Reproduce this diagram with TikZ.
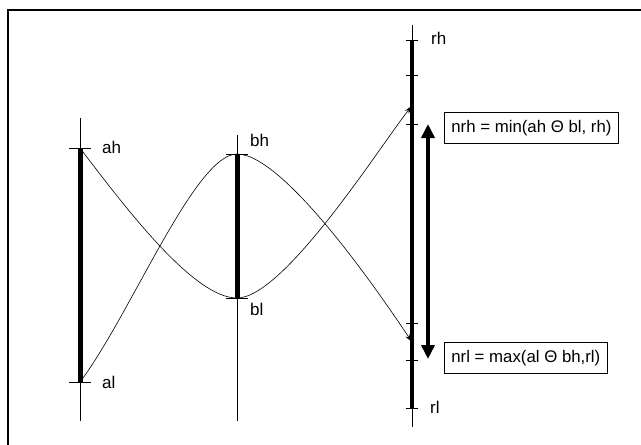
\documentclass[tikz,border=0pt]{standalone}
\usepackage{fontspec}
\setmainfont{Liberation Sans}
\usetikzlibrary{arrows.meta}
\begin{document}
\begin{tikzpicture}[x=1pt,y=-1pt,
  thin axis/.style={line width=0.9pt},
  thick seg/.style={line width=5pt},
  tickmark/.style={line width=0.9pt},
  curve/.style={line width=0.6pt},
  lbl/.style={anchor=west,inner sep=0pt,font=\fontsize{17}{20}\selectfont},
  formula/.style={draw,line width=0.8pt,anchor=north west,minimum height=31pt,inner xsep=7pt,font=\fontsize{16.8}{20}\selectfont},
  arr/.style={curve,-{Stealth[length=8pt,width=5pt]}}]
\useasboundingbox (0,0) rectangle (641,445);
% frame (left and top edges visible)
\draw[line width=2pt] (8,445) -- (8,10) -- (641,10);
% coordinates
\coordinate (atop) at (80,118);
\coordinate (abot) at (80,421);
\coordinate (ah) at (80,148);
\coordinate (al) at (80,382);
\coordinate (btop) at (237,135);
\coordinate (bbot) at (237,421);
\coordinate (bh) at (237,154);
\coordinate (bl) at (237,298);
\coordinate (rtop) at (412,25);
\coordinate (rbot) at (412,427);
\coordinate (rh) at (412,40);
\coordinate (rl) at (412,408);
\coordinate (r1) at (412,106);
\coordinate (r2) at (412,342);
% axes
\draw[thin axis] (atop) -- (abot);
\draw[thin axis] (btop) -- (bbot);
\draw[thin axis] (rtop) -- (rbot);
\draw[thick seg] (ah) -- (al);
\draw[thick seg] (bh) -- (bl);
\draw[line width=4.5pt] (rh) -- (rl);
% ticks
\foreach \p in {ah,al,bh,bl}
  \draw[tickmark] ([xshift=-11pt]\p) -- ([xshift=11pt]\p);
\foreach \y in {40,75,124,323,360,408}
  \draw[tickmark] (406,\y) -- (418,\y);
% labels
\node[lbl] (lah) at (102,147) {ah};
\node[lbl] (lal) at (102,382) {al};
\node[lbl] (lbh) at (250,140) {bh};
\node[lbl] (lbl) at (250,309) {bl};
\node[lbl] (lrh) at (431,38) {rh};
\node[lbl] (lrl) at (430,407) {rl};
% curves
\draw[curve] (ah) .. controls (130,214) and (195,298) .. (bl);
\draw[arr] (bl) .. controls (285,298) and (384,140) .. (r1);
\draw[curve] (al) .. controls (130,316) and (195,154) .. (bh);
\draw[arr] (bh) .. controls (285,154) and (384,300) .. (r2);
% double arrow
\coordinate (dtop) at (428,124);
\coordinate (dbot) at (428,359);
\draw[line width=4pt,{Triangle[length=14pt,width=13pt]}-{Triangle[length=14pt,width=13pt]}] (dtop) -- (dbot);
% formula boxes
\node[formula] (nrh) at (444,112) {nrh = min(ah Θ bl, rh)};
\node[formula] (nrl) at (444,342) {nrl = max(al Θ bh,rl)};
\end{tikzpicture}
\end{document}
